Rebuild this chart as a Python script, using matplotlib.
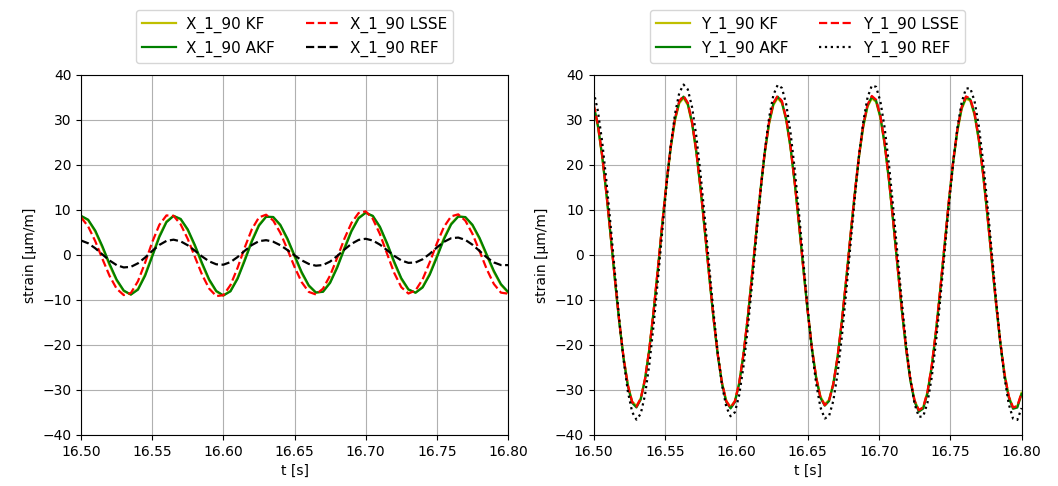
import matplotlib.pyplot as plt
import numpy as np

# sample times (left panel every 5 ms, right panel every 3 ms)
t_x = np.linspace(16.5, 16.8, 61)
t_y = np.linspace(16.5, 16.8, 101)

x_kf = [8.63, 7.71, 5.18, 1.64, -2.26, -5.70, -8.03, -8.79, -7.54, -4.33,
        -0.01, 4.29, 7.47, 8.71, 7.89, 5.45, 1.89, -2.08, -5.67, -8.13,
        -9.00, -7.93, -5.01, -0.94, 3.30, 6.74, 8.55, 8.38, 6.52, 3.38,
        -0.40, -4.07, -6.93, -8.39, -8.10, -5.98, -2.50, 1.65, 5.52, 8.32,
        9.40, 8.58, 6.04, 2.32, -1.79, -5.40, -7.76, -8.37, -7.06, -4.11,
        -0.20, 3.81, 6.98, 8.60, 8.36, 6.53, 3.53, -0.16, -3.77, -6.66,
        -8.34]
x_akf = [8.70, 7.84, 5.42, 1.94, -1.96, -5.46, -7.90, -8.80, -7.71, -4.62,
         -0.35, 3.98, 7.28, 8.68, 8.01, 5.68, 2.19, -1.78, -5.42, -7.99,
         -9.00, -8.08, -5.28, -1.27, 2.99, 6.52, 8.47, 8.45, 6.71, 3.65,
         -0.10, -3.80, -6.75, -8.33, -8.19, -6.20, -2.80, 1.33, 5.25, 8.15,
         9.38, 8.70, 6.28, 2.63, -1.48, -5.15, -7.63, -8.39, -7.22, -4.38,
         -0.52, 3.52, 6.78, 8.53, 8.43, 6.72, 3.79, 0.13, -3.51, -6.47,
         -8.20]
x_lsse = [8.36, 6.34, 3.06, -0.86, -4.62, -7.50, -8.91, -8.46, -5.83, -1.72,
          2.85, 6.69, 8.79, 8.69, 6.80, 3.54, -0.43, -4.36, -7.47, -9.13,
          -8.94, -6.68, -2.84, 1.66, 5.72, 8.36, 8.95, 7.67, 4.93, 1.25,
          -2.67, -6.04, -8.21, -8.77, -7.48, -4.55, -0.60, 3.59, 7.13, 9.33,
          9.70, 8.02, 4.62, 0.28, -3.98, -7.16, -8.57, -7.89, -5.39, -1.61,
          2.59, 6.26, 8.58, 9.03, 7.62, 4.70, 0.85, -3.14, -6.43, -8.37,
          -8.60]
x_ref = [3.22, 2.60, 1.49, 0.12, -1.22, -2.25, -2.77, -2.64, -1.85, -0.57,
         0.89, 2.23, 3.13, 3.40, 3.03, 2.15, 0.95, -0.33, -1.41, -2.07,
         -2.16, -1.58, -0.45, 0.93, 2.21, 3.07, 3.29, 2.95, 2.17, 1.10,
         -0.08, -1.18, -1.99, -2.38, -2.23, -1.46, -0.22, 1.20, 2.48, 3.35,
         3.60, 3.21, 2.30, 1.07, -0.19, -1.21, -1.75, -1.67, -0.95, 0.26,
         1.67, 2.92, 3.72, 3.87, 3.35, 2.28, 0.89, -0.53, -1.65, -2.24,
         -2.25]

y_kf = [33.03, 28.52, 21.80, 13.37, 3.94, -5.75, -14.93, -22.85, -28.89, -32.57,
        -33.58, -31.85, -27.50, -20.92, -12.60, -3.23, 6.46, 15.68, 23.70, 29.87,
        33.70, 34.89, 33.33, 29.15, 22.69, 14.44, 5.09, -4.63, -13.93, -22.08,
        -28.41, -32.42, -33.80, -32.42, -28.41, -22.07, -13.93, -4.62, 5.09, 14.45,
        22.68, 29.16, 33.33, 34.89, 33.71, 29.89, 23.76, 15.79, 6.62, -3.02,
        -12.32, -20.59, -27.14, -31.46, -33.18, -32.18, -28.53, -22.53, -14.66, -5.55,
        4.07, 13.44, 21.80, 28.48, 32.94, 34.84, 34.01, 30.46, 24.49, 16.57,
        7.33, -2.48, -12.07, -20.70, -27.65, -32.38, -34.50, -33.85, -30.48, -24.66,
        -16.84, -7.67, 2.12, 11.76, 20.47, 27.54, 32.44, 34.74, 34.29, 31.11,
        25.48, 17.84, 8.81, -0.91, -10.51, -19.24, -26.41, -31.41, -33.88, -33.60,
        -30.61]
y_akf = [33.31, 28.76, 21.98, 13.48, 3.97, -5.81, -15.07, -23.06, -29.15, -32.86,
         -33.88, -32.13, -27.75, -21.11, -12.72, -3.26, 6.51, 15.81, 23.90, 30.13,
         33.99, 35.19, 33.62, 29.40, 22.88, 14.56, 5.13, -4.68, -14.06, -22.28,
         -28.66, -32.71, -34.10, -32.71, -28.66, -22.27, -14.06, -4.67, 5.13, 14.57,
         22.87, 29.41, 33.62, 35.19, 34.00, 30.15, 23.96, 15.92, 6.67, -3.05,
         -12.44, -20.78, -27.39, -31.74, -33.48, -32.47, -28.79, -22.74, -14.80, -5.61,
         4.10, 13.55, 21.98, 28.72, 33.22, 35.14, 34.30, 30.72, 24.70, 16.71,
         7.39, -2.50, -12.18, -20.88, -27.89, -32.66, -34.80, -34.14, -30.74, -24.87,
         -16.99, -7.74, 2.14, 11.86, 20.65, 27.78, 32.72, 35.04, 34.58, 31.38,
         25.70, 17.99, 8.88, -0.92, -10.60, -19.41, -26.64, -31.69, -34.18, -33.90,
         -30.88]
y_lsse = [33.51, 28.96, 22.18, 13.68, 4.17, -5.61, -14.87, -22.86, -28.95, -32.66,
          -33.68, -31.93, -27.55, -20.91, -12.52, -3.06, 6.71, 16.01, 24.10, 30.33,
          34.19, 35.39, 33.82, 29.60, 23.08, 14.76, 5.33, -4.48, -13.86, -22.08,
          -28.46, -32.51, -33.90, -32.51, -28.46, -22.07, -13.86, -4.47, 5.33, 14.77,
          23.07, 29.61, 33.82, 35.39, 34.20, 30.35, 24.14, 16.09, 6.83, -2.90,
          -12.31, -20.67, -27.28, -31.64, -33.38, -32.36, -28.68, -22.62, -14.68, -5.47,
          4.25, 13.71, 22.16, 28.91, 33.42, 35.34, 34.50, 30.93, 24.91, 16.93,
          7.63, -2.25, -11.91, -20.60, -27.60, -32.36, -34.50, -33.84, -30.45, -24.58,
          -16.72, -7.48, 2.38, 12.09, 20.87, 27.99, 32.92, 35.24, 34.78, 31.58,
          25.91, 18.22, 9.12, -0.67, -10.34, -19.13, -26.35, -31.39, -33.88, -33.60,
          -30.59]
y_ref = [36.31, 31.96, 25.10, 16.28, 6.21, -4.32, -14.45, -23.37, -30.38, -34.91,
         -36.59, -35.30, -31.13, -24.41, -15.69, -5.66, 4.87, 15.08, 24.11, 31.28,
         35.99, 37.87, 36.79, 32.84, 26.34, 17.81, 7.94, -2.49, -12.63, -21.70,
         -28.93, -33.78, -35.84, -34.95, -31.18, -24.84, -16.43, -6.62, 3.79, 13.99,
         23.14, 30.52, 35.54, 37.79, 37.10, 33.48, 27.25, 18.89, 9.07, -1.42,
         -11.73, -21.05, -28.63, -33.87, -36.34, -35.83, -32.41, -26.34, -18.10, -8.36,
         2.11, 12.47, 21.88, 29.60, 35.00, 37.66, 37.36, 34.14, 28.24, 20.15,
         10.52, 0.09, -10.26, -19.74, -27.57, -33.14, -35.97, -35.88, -32.86, -27.17,
         -19.27, -9.76, 0.55, 10.88, 20.37, 28.27, 33.96, 36.98, 37.08, 34.22,
         28.66, 20.82, 11.33, 0.95, -9.48, -19.13, -27.24, -33.14, -36.37, -36.66,
         -34.02]

x_ticks = [16.50, 16.55, 16.60, 16.65, 16.70, 16.75, 16.80]
y_ticks = [-40, -30, -20, -10, 0, 10, 20, 30, 40]

fig = plt.figure(figsize=(10.58, 4.86), dpi=100)
ax1 = fig.add_axes([0.0766, 0.105, 0.4036, 0.7407])
ax2 = fig.add_axes([0.5611, 0.105, 0.4045, 0.7407])


def draw(ax, t, kf, akf, lsse, ref, name, ref_style):
    ax.plot(t, kf, color='#bfbf00', lw=1.6, label=name + ' KF')
    ax.plot(t, akf, color='green', lw=1.6, label=name + ' AKF')
    ax.plot(t, lsse, color='red', ls='--', lw=1.6, label=name + ' LSSE')
    ax.plot(t, ref, color='black', ls=ref_style, lw=1.6, label=name + ' REF')
    ax.set_xlim(16.5, 16.8)
    ax.set_ylim(-40, 40)
    ax.set_xticks(x_ticks)
    ax.set_xticklabels(['%.2f' % v for v in x_ticks])
    ax.set_yticks(y_ticks)
    ax.grid(True, color='#b0b0b0', lw=0.8)
    ax.set_xlabel('t [s]')
    ax.set_ylabel('strain [µm/m]')
    ax.legend(loc='lower center', bbox_to_anchor=(0.5, 1.013), ncol=2,
              fontsize=11, columnspacing=2.0, handlelength=2.2,
              handletextpad=0.7)


draw(ax1, t_x, x_kf, x_akf, x_lsse, x_ref, 'X_1_90', '--')
draw(ax2, t_y, y_kf, y_akf, y_lsse, y_ref, 'Y_1_90', ':')

fig.savefig('out.png', dpi=100)
